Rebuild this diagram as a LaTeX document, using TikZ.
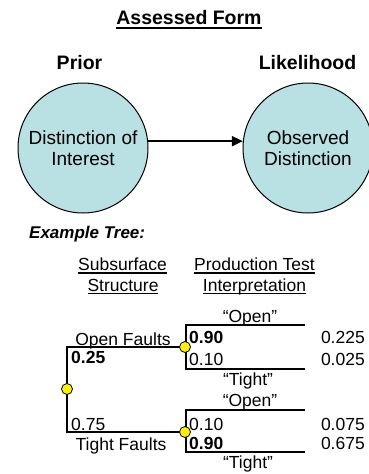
\documentclass[tikz,border=0pt]{standalone}
\usepackage{fontspec}
\setmainfont{Liberation Sans}
\usetikzlibrary{arrows.meta}
\definecolor{nodefill}{HTML}{B9E0E2}
\newcommand\myul[3]{\setbox0\hbox{#3}\rlap{\rule[#1]{\wd0}{#2}}\box0}
\begin{document}
\begin{tikzpicture}[x=1pt,y=-1pt,
  hdr/.style={font=\fontsize{19.5}{22}\selectfont\bfseries, anchor=base, inner sep=0},
  lbl/.style={font=\fontsize{17.5}{20}\selectfont, anchor=base, inner sep=0},
  dist/.style={circle, draw=black, line width=1pt, fill=nodefill, minimum size=130pt, inner sep=0, align=center, font=\fontsize{19}{21}\selectfont},
  chance/.style={circle, draw=black, line width=0.8pt, fill=yellow, minimum size=11pt, inner sep=0},
  branch/.style={line width=1.8pt},
  link/.style={line width=2pt, -{Triangle[length=11pt,width=10pt]}},
]
\useasboundingbox (0,0) rectangle (368,474);

% top part
\node[hdr] (title) at (189,24) {\myul{-4.7pt}{2pt}{Assessed Form}};
\node[hdr] (priorlbl) at (79.5,69.5) {Prior};
\node[hdr] (likelbl) at (307.5,69.5) {Likelihood};
\node[dist] (prior) at (83,148) {Distinction of\\Interest};
\node[dist] (like) at (308,148) {Observed\\Distinction};
\draw[link] (prior.6) -- (like.174);

% example tree
\node[font=\fontsize{17}{20}\selectfont\bfseries\itshape, anchor=base west, inner sep=0] (ex) at (29,238) {Example Tree:};
\node[lbl] (h1a) at (122.5,270.5) {\myul{-3.2pt}{1.3pt}{Subsurface}};
\node[lbl] (h1b) at (123,291) {\myul{-3.2pt}{1.3pt}{Structure}};
\node[lbl] (h2a) at (254.5,270.5) {\myul{-3.2pt}{1.3pt}{Production Test}};
\node[lbl] (h2b) at (254.5,291) {\myul{-3.2pt}{1.3pt}{Interpretation}};

\coordinate (e1) at (305,325);
\coordinate (e2) at (305,369);
\coordinate (e3) at (305,410);
\coordinate (e4) at (305,452);
\coordinate (root) at (67,389);
\coordinate (c1) at (185,347);
\coordinate (c2) at (185,432);

\draw[branch] (c1) -| (root) |- (c2);
\draw[branch] (e1) -| ([xshift=1pt]c1) |- (e2);
\draw[branch] (e3) -| ([xshift=1pt]c2) |- (e4);
\node[chance] (rootdot) at (root) {};
\node[chance] (c1dot) at (c1) {};
\node[chance] (c2dot) at (c2) {};

% labels upper
\node[lbl] (o1) at (250,322) {“Open"};
\node[lbl] (t1) at (248,385) {“Tight"};
\node[lbl, anchor=base west, font=\fontsize{17.5}{20}\selectfont\bfseries] (p1) at (189,343) {0.90};
\node[lbl, anchor=base west] (p2) at (189,365) {0.10};
\node[lbl, anchor=base east] (j1) at (365,343) {0.225};
\node[lbl, anchor=base east] (j2) at (365,365) {0.025};
\node[lbl] (of) at (123,345) {Open Faults};
\node[lbl, anchor=base west, font=\fontsize{17.5}{20}\selectfont\bfseries] (q1) at (71,363) {0.25};

% labels lower
\node[lbl] (o2) at (250,406.5) {“Open"};
\node[lbl] (t2) at (248,468) {“Tight"};
\node[lbl, anchor=base west] (p3) at (189,430) {0.10};
\node[lbl, anchor=base west, font=\fontsize{17.5}{20}\selectfont\bfseries] (p4) at (189,449) {0.90};
\node[lbl, anchor=base east] (j3) at (365,430) {0.075};
\node[lbl, anchor=base east] (j4) at (365,449) {0.675};
\node[lbl, anchor=base west] (q2) at (71,430) {0.75};
\node[lbl] (tf) at (121,450.5) {Tight Faults};
\end{tikzpicture}
\end{document}
